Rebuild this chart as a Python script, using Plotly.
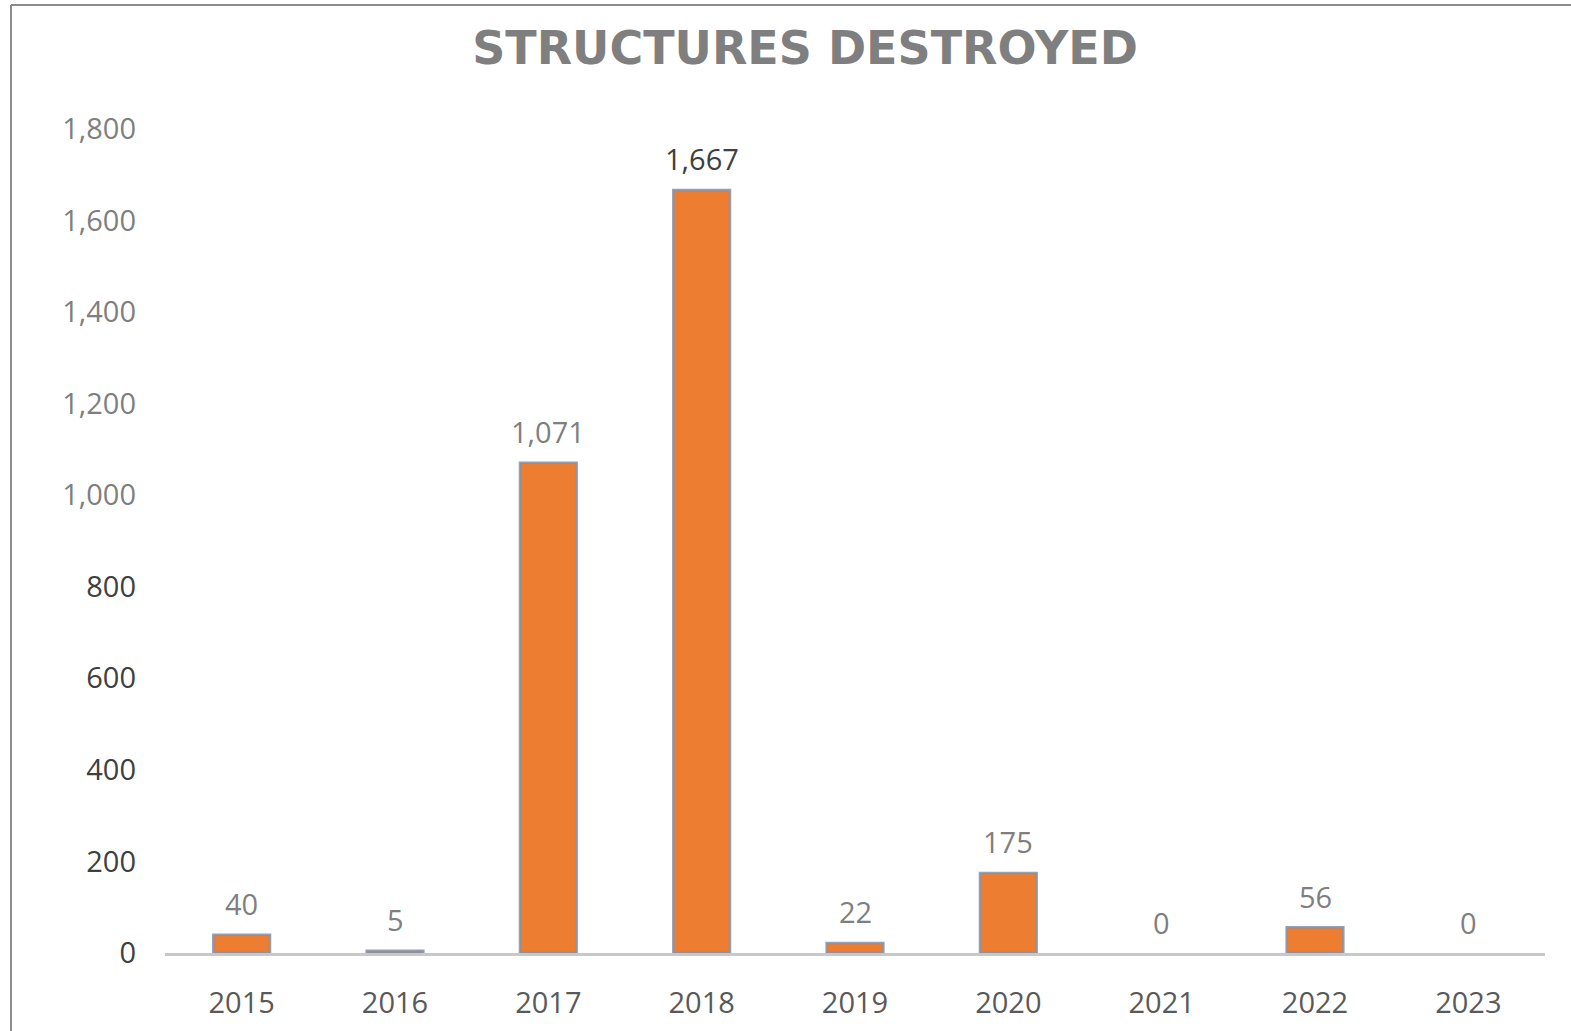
import plotly.graph_objects as go

years = ["2015", "2016", "2017", "2018", "2019", "2020", "2021", "2022", "2023"]
structures = [40, 5, 1071, 1667, 22, 175, 0, 56, 0]
label_colors = ["#7f7f7f", "#7f7f7f", "#7f7f7f", "#404040", "#7f7f7f", "#7f7f7f", "#7f7f7f", "#7f7f7f", "#7f7f7f"]
y_ticks = [0, 200, 400, 600, 800, 1000, 1200, 1400, 1600, 1800]
y_tick_colors = ["#404040"] * 5 + ["#7f7f7f"] * 5

W, H = 1571, 1031
FONT = "Open Sans"

fig = go.Figure()
fig.add_trace(go.Bar(
    x=years,
    y=structures,
    width=0.37,
    marker=dict(color="#ED7D31",
                line=dict(color="rgba(132,146,170,0.85)",
                          width=[2.5 if v > 0 else 0 for v in structures])),
    cliponaxis=False,
    hoverinfo="skip",
))

# data labels: category axis positions are category indices
for i, (v, c) in enumerate(zip(structures, label_colors)):
    fig.add_annotation(
        x=i, y=v, xref="x", yref="y",
        text=f"{v:,}", showarrow=False,
        yanchor="middle", yshift=31,
        font=dict(family=FONT, size=29, color=c),
    )

ticktext = [f'<span style="color:{c}">{v:,}</span>' for v, c in zip(y_ticks, y_tick_colors)]

fig.update_layout(
    width=W, height=H,
    margin=dict(l=0, r=0, t=0, b=0, pad=0, autoexpand=False),
    paper_bgcolor="white",
    plot_bgcolor="white",
    showlegend=False,
    font=dict(family=FONT),
    title=dict(
        text="<b>STRUCTURES DESTROYED</b>",
        x=805 / W, xanchor="center",
        y=1 - 48 / H, yanchor="middle",
        font=dict(family="DejaVu Sans", size=46, color="#7f7f7f"),
    ),
    xaxis=dict(
        type="category",
        range=[-0.5, len(years) - 0.5],
        domain=[165 / W, 1545 / W],
        showline=True, linecolor="#c8c8c8", linewidth=3,
        showgrid=False, ticks="", automargin=False,
        tickfont=dict(family=FONT, size=29, color="#595959"),
        ticklabelstandoff=22,
    ),
    yaxis=dict(
        domain=[(H - 953) / H, (H - 129) / H],
        range=[0, 1800],
        tickvals=y_ticks, ticktext=ticktext,
        showgrid=False, zeroline=False, showline=False, ticks="", automargin=False,
        tickfont=dict(family=FONT, size=29, color="#7f7f7f"),
        ticklabelstandoff=28,
    ),
    shapes=[
        dict(type="line", xref="paper", yref="paper", x0=11 / W, x1=11 / W, y0=0, y1=1 - 5 / H,
             line=dict(color="#8c8c8c", width=2)),
        dict(type="line", xref="paper", yref="paper", x0=11 / W, x1=1, y0=1 - 5 / H, y1=1 - 5 / H,
             line=dict(color="#8c8c8c", width=2)),
    ],
)

fig.write_html("out.html", config={"displayModeBar": False},
               post_script="document.body.style.margin='0';")
